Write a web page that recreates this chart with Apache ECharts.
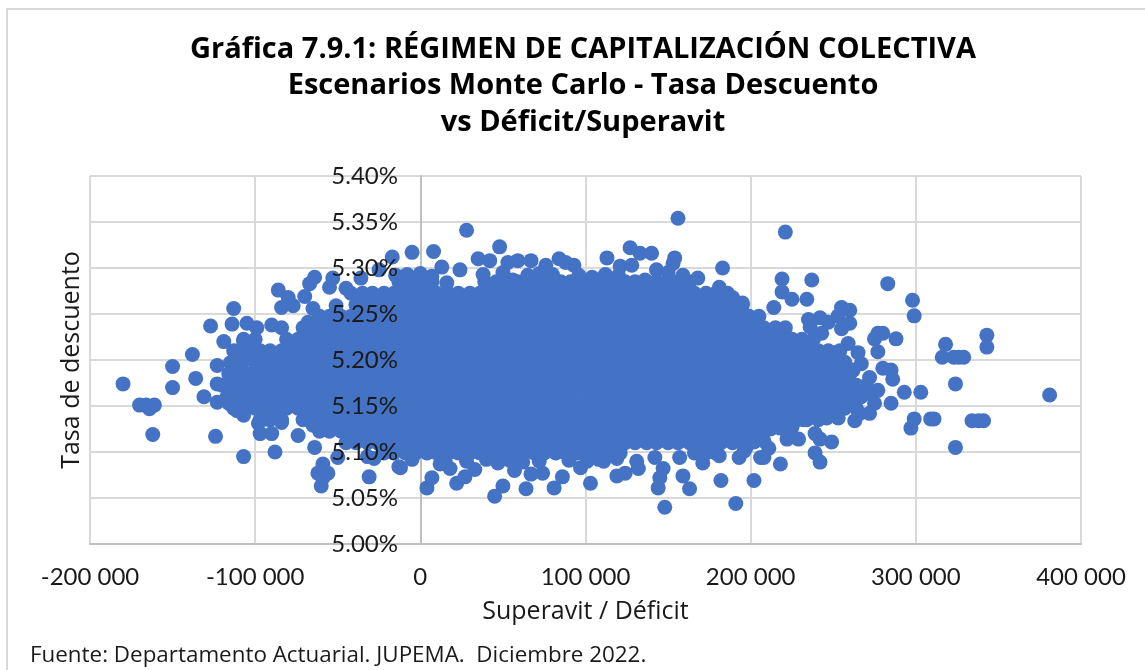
<!DOCTYPE html>
<html><head><meta charset="utf-8">
<style>html,body{margin:0;padding:0;background:#fff}#c{width:1145px;height:670px}</style>
<script src="https://cdn.jsdelivr.net/npm/echarts@6/dist/echarts.min.js"></script>
</head><body><div id="c"></div>
<script>
const titleLines = ['Gráfica 7.9.1: RÉGIMEN DE CAPITALIZACIÓN COLECTIVA','Escenarios Monte Carlo - Tasa Descuento','vs Déficit/Superavit'];
const xName = 'Superavit / Déficit';
const yName = 'Tasa de descuento';
const sourceNote = 'Fuente: Departamento Actuarial. JUPEMA.  Diciembre 2022.';

// Individually readable scenarios: [superávit in thousands, rate in %]
const leftPoints = [[-180,5.174],[-170,5.151],[-166,5.151],[-164,5.147],[-161,5.151],[-162,5.119],[-150,5.193],[-150,5.170],[-138,5.206],[-136,5.180],[-131,5.160],[-124,5.117],[-127,5.237],[-119,5.220],[-113,5.256],[-114,5.239],[-105,5.240],[-107,5.095],[-88,5.100],[-123,5.194],[-123,5.174],[-123,5.154],[-99,5.235],[-90,5.238],[-84,5.235],[-86,5.276],[-80,5.268],[-84,5.257],[-77,5.259],[-70,5.269],[-67,5.283],[-64,5.290],[-65,5.256],[-68,5.241],[-53,5.289],[-55,5.279],[-45,5.278],[-36,5.289],[-25,5.298],[-17,5.312],[-5,5.317],[-51,5.259],[-12,5.290],[-97,5.120],[-90,5.120],[-98,5.131],[-93,5.136],[-84,5.132],[-74,5.118],[-64,5.105],[-59,5.087],[-62,5.077],[-56,5.077],[-60,5.063],[-59,5.072],[-50,5.094],[-32,5.095],[-28,5.093],[-13,5.084],[-31,5.073],[-107,5.140],[-111,5.145],[-116,5.153],[-65,5.129],[-107,5.221],[-113,5.210],[-115,5.197],[-103,5.203],[-116,5.185],[-108,5.197]];
const topPoints = [[28,5.341],[8,5.318],[13,5.301],[24,5.298],[16,5.284],[35,5.310],[42,5.308],[53,5.306],[59,5.308],[67,5.308],[48,5.323],[38,5.293],[50,5.295],[56,5.287],[76,5.303],[84,5.310],[93,5.303],[88,5.306],[65,5.292],[104,5.290],[113,5.311],[121,5.302],[128,5.303],[127,5.322],[133,5.316],[140,5.316],[136,5.287],[143,5.298],[150,5.295],[154,5.311],[153,5.305],[156,5.354],[183,5.300],[159,5.292],[168,5.289],[181,5.279],[189,5.268],[195,5.262],[-15,5.292],[-8,5.293],[0,5.294],[7,5.291],[72,5.294],[80,5.293],[96,5.292],[112,5.293],[120,5.292]];
const bottomPoints = [[4,5.061],[7,5.072],[-12,5.083],[12,5.087],[18,5.082],[22,5.066],[27,5.073],[33,5.081],[45,5.052],[50,5.063],[47,5.088],[57,5.080],[64,5.060],[67,5.076],[74,5.077],[81,5.061],[86,5.073],[97,5.083],[103,5.066],[111,5.090],[119,5.074],[124,5.077],[132,5.082],[131,5.090],[142,5.094],[144,5.061],[145,5.072],[147,5.082],[148,5.040],[159,5.074],[163,5.060],[171,5.088],[157,5.094],[181,5.096],[182,5.069],[191,5.044],[193,5.094],[197,5.104],[202,5.069],[206,5.094],[-5,5.092],[15,5.091],[28,5.090],[40,5.092],[54,5.091],[62,5.089],[72,5.090],[90,5.091],[101,5.090],[108,5.092],[119,5.093]];
const rightPoints = [[221,5.339],[219,5.288],[237,5.287],[219,5.274],[225,5.266],[234,5.266],[214,5.257],[255,5.257],[260,5.254],[253,5.248],[260,5.240],[255,5.234],[242,5.246],[235,5.244],[243,5.229],[236,5.236],[247,5.241],[283,5.283],[298,5.265],[299,5.248],[277,5.229],[280,5.229],[288,5.223],[275,5.223],[277,5.209],[259,5.218],[251,5.208],[265,5.208],[267,5.196],[262,5.189],[280,5.191],[285,5.189],[286,5.179],[272,5.181],[277,5.167],[271,5.165],[293,5.165],[303,5.165],[285,5.153],[275,5.153],[272,5.142],[263,5.134],[266,5.142],[253,5.137],[246,5.137],[232,5.135],[299,5.136],[297,5.126],[309,5.136],[311,5.136],[334,5.134],[341,5.134],[338,5.134],[324,5.105],[324,5.174],[318,5.217],[316,5.203],[323,5.203],[329,5.203],[326,5.203],[343,5.227],[343,5.214],[381,5.162],[249,5.111],[239,5.120],[222,5.114],[229,5.114],[242,5.114],[239,5.099],[242,5.089],[218,5.087],[208,5.094],[211,5.104],[208,5.112],[196,5.101],[212,5.125],[218,5.126],[225,5.127],[196,5.110],[202,5.111],[254,5.210]];

// Saturated core: single scenarios cannot be told apart here, so these are
// estimated positions that reproduce the solid mass, one list per rate level.
const coreRates = [5.285,5.2725,5.26,5.2475,5.235,5.2225,5.21,5.1975,5.185,5.1725,5.16,5.1475,5.135,5.1225,5.11,5.099];
const coreSuperavit = [
[-13,-6,0,7,39,46,52,59,65,72,78,85,91,98,104,111,117,124,130,137,143,150,156,163],
[-42,-35,-29,-22,-16,-9,-3,4,10,17,23,30,36,43,49,56,62,69,75,82,88,95,101,108,114,121,127,134,140,147,153,160,166,173,179,186],
[-39,-32,-26,-19,-13,-6,0,7,13,20,26,33,39,46,52,59,65,72,78,85,91,98,104,111,117,124,130,137,143,150,156,163,169,176,182,189,195],
[-61,-55,-48,-42,-35,-29,-22,-16,-9,-3,4,10,17,23,30,36,43,49,56,62,69,75,82,88,95,101,108,114,121,127,134,140,147,153,160,166,173,179,186,192,199,205],
[-71,-65,-58,-52,-45,-39,-32,-26,-19,-13,-6,0,7,13,20,26,33,39,46,52,59,65,72,78,85,91,98,104,111,117,124,130,137,143,150,156,163,169,176,182,189,195,202,208,215,221],
[-107,-100,-81,-74,-68,-61,-55,-48,-42,-35,-29,-22,-16,-9,-3,4,10,17,23,30,36,43,49,56,62,69,75,82,88,95,101,108,114,121,127,134,140,147,153,160,166,173,179,186,192,199,205,212,218,225,231,238],
[-110,-104,-97,-91,-84,-78,-71,-65,-58,-52,-45,-39,-32,-26,-19,-13,-6,0,7,13,20,26,33,39,46,52,59,65,72,78,85,91,98,104,111,117,124,130,137,143,150,156,163,169,176,182,189,195,202,208,215,221,228,234,241,247],
[-100,-94,-87,-81,-74,-68,-61,-55,-48,-42,-35,-29,-22,-16,-9,-3,4,10,17,23,30,36,43,49,56,62,69,75,82,88,95,101,108,114,121,127,134,140,147,153,160,166,173,179,186,192,199,205,212,218,225,231,238,244,251,257],
[-110,-104,-97,-91,-84,-78,-71,-65,-58,-52,-45,-39,-32,-26,-19,-13,-6,0,7,13,20,26,33,39,46,52,59,65,72,78,85,91,98,104,111,117,124,130,137,143,150,156,163,169,176,182,189,195,202,208,215,221,228,234,241,247,254,260],
[-120,-113,-107,-100,-94,-87,-81,-74,-68,-61,-55,-48,-42,-35,-29,-22,-16,-9,-3,4,10,17,23,30,36,43,49,56,62,69,75,82,88,95,101,108,114,121,127,134,140,147,153,160,166,173,179,186,192,199,205,212,218,225,231,238,244,251,257,264,270],
[-117,-110,-104,-97,-91,-84,-78,-71,-65,-58,-52,-45,-39,-32,-26,-19,-13,-6,0,7,13,20,26,33,39,46,52,59,65,72,78,85,91,98,104,111,117,124,130,137,143,150,156,163,169,176,182,189,195,202,208,215,221,228,234,241,247,254,260,267],
[-113,-107,-100,-94,-87,-81,-74,-68,-61,-55,-48,-42,-35,-29,-22,-16,-9,-3,4,10,17,23,30,36,43,49,56,62,69,75,82,88,95,101,108,114,121,127,134,140,147,153,160,166,173,179,186,192,199,205,212,218,225,231,238,244,251,257,264],
[-97,-91,-84,-71,-65,-58,-52,-45,-39,-32,-26,-19,-13,-6,0,7,13,20,26,33,39,46,52,59,65,72,78,85,91,98,104,111,117,124,130,137,143,150,156,163,169,176,182,189,195,202,208,215,221,228,234,241],
[-61,-55,-48,-42,-35,-29,-22,-16,-9,-3,4,10,17,23,30,36,43,49,56,62,69,75,82,88,95,101,108,114,121,127,134,140,147,153,160,166,173,179,186,192,199,205],
[-45,-39,-32,-26,-19,-13,-6,0,7,13,20,26,33,39,46,52,59,65,72,78,85,91,98,104,111,117,124,130,137,143,150,156,163,169,176,182,189],
[-22,-16,-9,-3,4,10,17,23,30,36,43,49,56,62,69,75,82,88,95,101,108,114,121,166,173,179]
];

const xMin = -200000, xMax = 400000, xStep = 100000;
const yMin = 5, yMax = 5.4, yStep = 0.05;
const FONT = 'Lato, "Open Sans", sans-serif';
const WIDE = '"Open Sans", Lato, sans-serif';
const GRID = '#d9d9d9', AXIS = '#bfbfbf', DOT = '#4472C4', INK = '#1a1a1a';

const points = [];
coreRates.forEach((r, i) => coreSuperavit[i].forEach(k => points.push([k * 1000, r])));
[leftPoints, topPoints, bottomPoints, rightPoints].forEach(list =>
  list.forEach(p => points.push([p[0] * 1000, p[1]])));

const chart = echarts.init(document.getElementById('c'), null, {renderer: 'canvas'});
chart.setOption({
  animation: false,
  backgroundColor: '#fff',
  graphic: [{type: 'polyline', silent: true, z: -1,
    shape: {points: [[7, 670], [7, 9], [1145, 9]]},
    style: {stroke: GRID, lineWidth: 2, fill: 'none'}}],
  title: [
    {text: titleLines.join('\n'), left: 578, top: 26, textAlign: 'center',
     textStyle: {fontFamily: WIDE, fontSize: 29, fontWeight: 'bold', color: '#000', lineHeight: 36.5}},
    {text: sourceNote, left: 25, top: 640, textStyle: {fontFamily: WIDE, fontSize: 22.4, fontWeight: 'normal', color: INK}}
  ],
  grid: {left: 90, right: 64, top: 176, bottom: 126, containLabel: false, outerBoundsMode: 'none'},
  xAxis: {
    type: 'value', min: xMin, max: xMax, interval: xStep,
    name: xName, nameLocation: 'middle', nameGap: 55,
    nameTextStyle: {fontFamily: WIDE, fontSize: 25, color: INK},
    axisLine: {onZero: false, lineStyle: {color: AXIS, width: 2}},
    axisTick: {show: false},
    axisLabel: {margin: 21, fontFamily: FONT, fontSize: 24, color: INK,
      formatter: v => String(v).replace(/\B(?=(\d{3})+$)/g, ' ')},
    splitLine: {show: true, lineStyle: {color: GRID, width: 2}}
  },
  yAxis: [{
    type: 'value', position: 'left', min: yMin, max: yMax, interval: yStep,
    axisLine: {show: true, onZero: true, lineStyle: {color: AXIS, width: 2}}, axisTick: {show: false}, axisLabel: {show: false},
    splitLine: {show: true, lineStyle: {color: GRID, width: 2}}
  }, {
    type: 'value', position: 'left', offset: -330, min: yMin, max: yMax, interval: yStep, z: 10,
    name: yName, nameLocation: 'middle', nameGap: 336, nameRotate: 90, nameMoveOverlap: false,
    nameTextStyle: {fontFamily: WIDE, fontSize: 25, color: INK},
    axisLine: {show: false, onZero: false}, axisTick: {show: false},
    axisLabel: {margin: 22, fontFamily: FONT, fontSize: 24, color: INK,
      formatter: v => v.toFixed(2) + '%'},
    splitLine: {show: false}
  }],
  series: [{
    type: 'scatter', data: points, xAxisIndex: 0, yAxisIndex: 0,
    symbol: 'circle', symbolSize: 15,
    itemStyle: {color: DOT, opacity: 1}, z: 3
  }]
});
</script></body></html>
